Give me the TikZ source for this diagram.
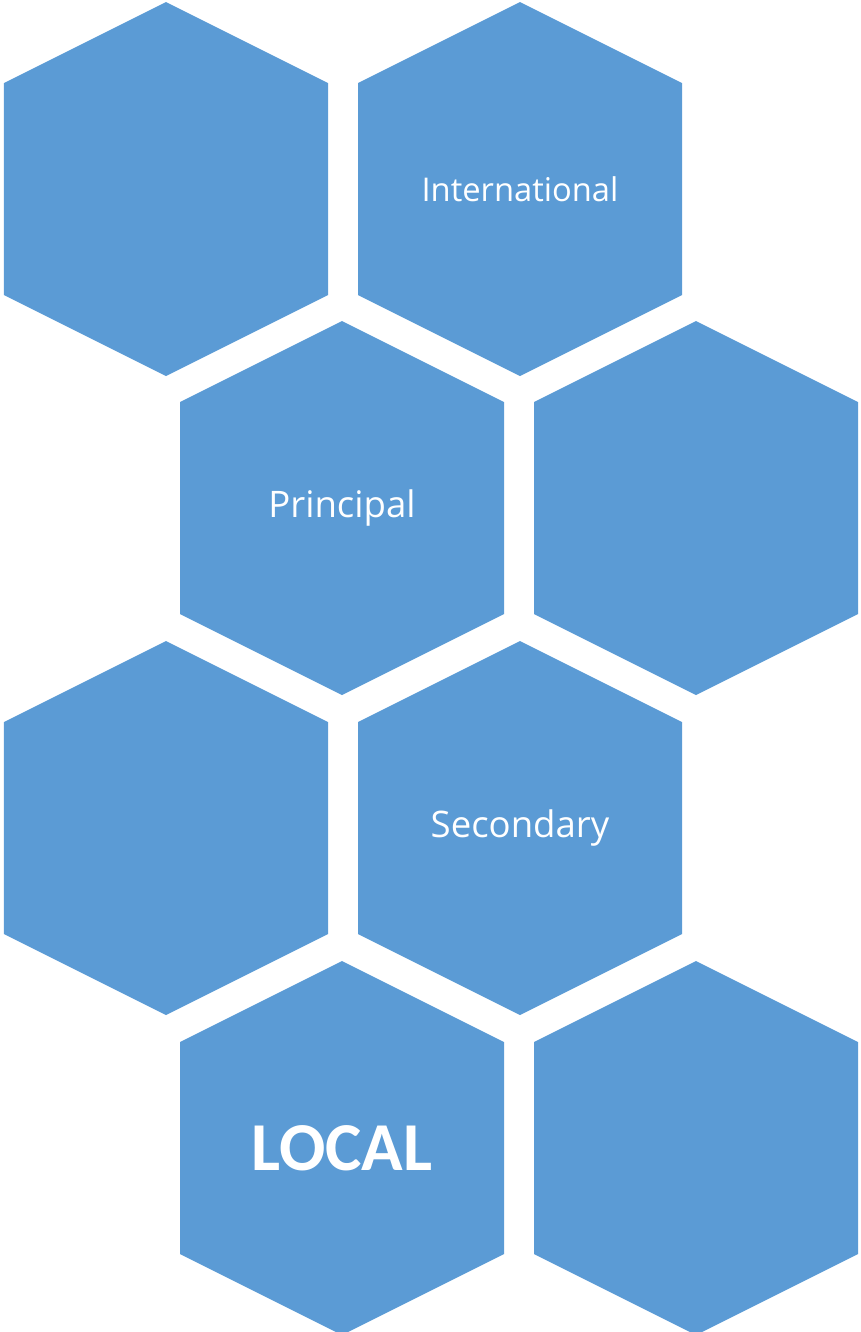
\documentclass[tikz,border=0pt]{standalone}
\usepackage{fontspec}
\setmainfont{Carlito}
\newfontfamily\labelfont{Open Sans}
\definecolor{hexblue}{HTML}{5B9BD5}
\newcommand{\biglabel}{\fontsize{10.4pt}{12pt}\selectfont}

\begin{document}
\begin{tikzpicture}[x=0.01cm,y=-0.01cm]
    \useasboundingbox (0,0) rectangle (861,1332);

    % one hexagon per cell: centre x, centre y, name, label
    \foreach \cx/\cy/\name/\txt in {166/189/hexa/{},520/189/intl/International,
        342/508/princ/{\biglabel Principal},696/508/hexb/{},
        166/828/hexc/{},520/828/sec/{\biglabel Secondary},
        342/1148/local/{\rmfamily\fontsize{19.5pt}{22pt}\bfseries LOCAL},696/1148/hexd/{}} {
      \fill[hexblue] (\cx,\cy-187) -- (\cx+162,\cy-106) -- (\cx+162,\cy+106)
        -- (\cx,\cy+187) -- (\cx-162,\cy+106) -- (\cx-162,\cy-106) -- cycle;
      \node[text=white,font=\labelfont\fontsize{9.3pt}{12pt}\selectfont] (\name) at (\cx,\cy) {\txt};
    }
  \end{tikzpicture}
\end{document}
